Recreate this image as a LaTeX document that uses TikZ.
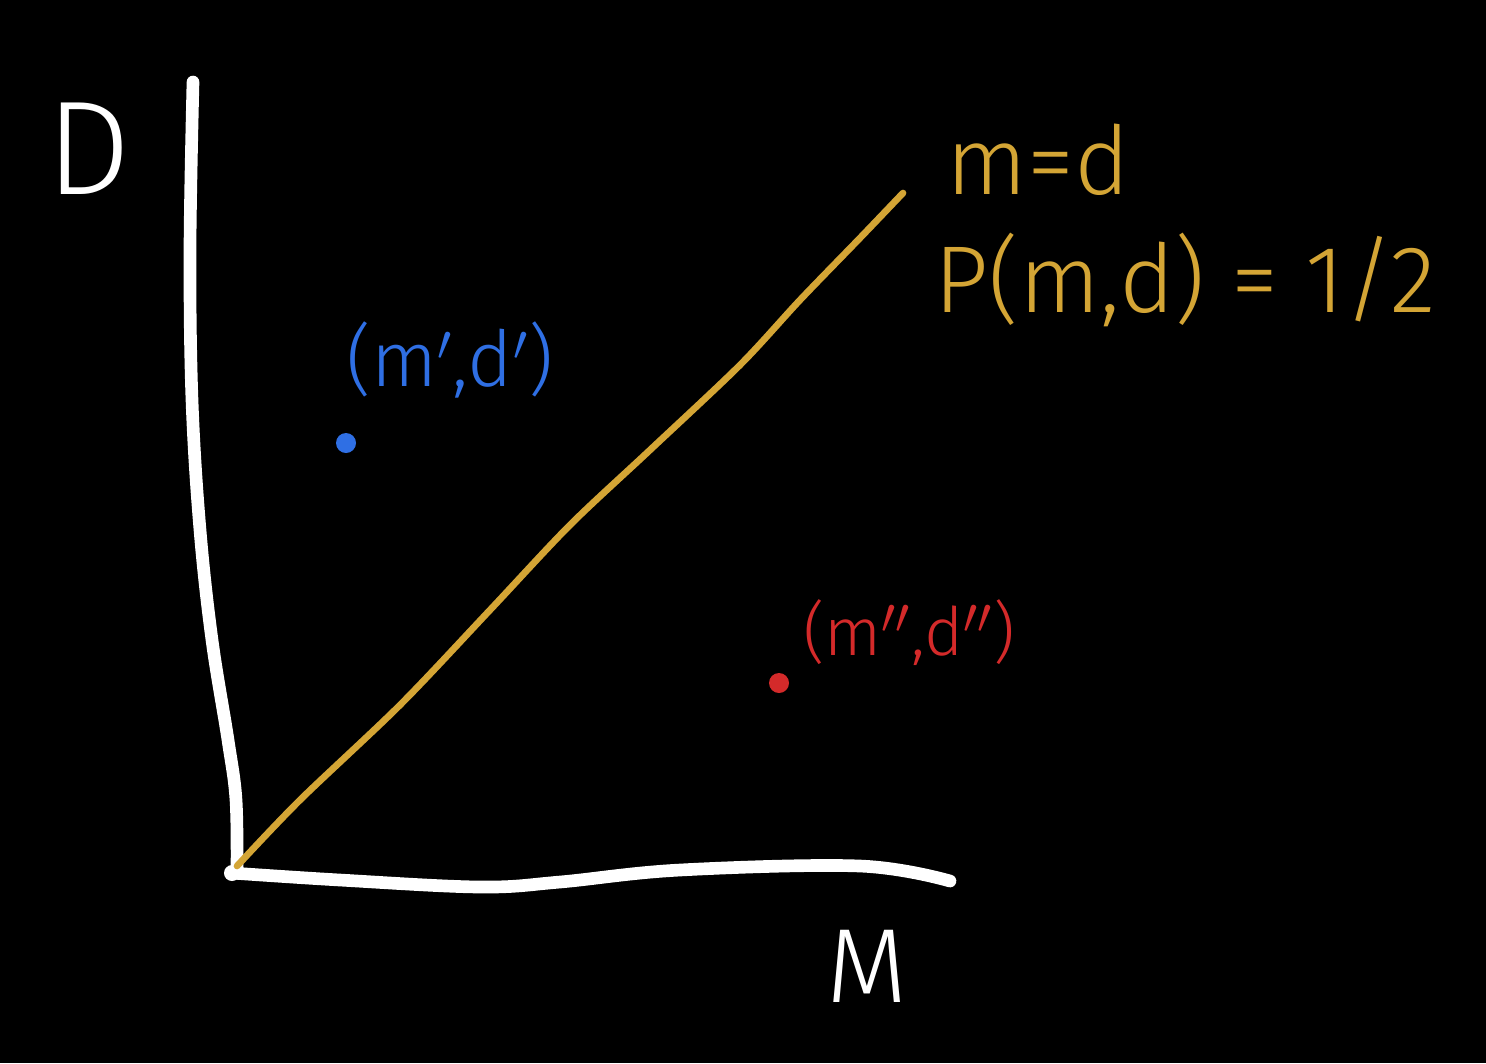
\documentclass[tikz,border=0pt]{standalone}
\usepackage{fontspec}
\setmainfont{Fira Sans Light}
\definecolor{gold}{HTML}{D4A535}
\definecolor{pblue}{HTML}{2F6FE4}
\definecolor{pred}{HTML}{D42A2A}
\begin{document}
\begin{tikzpicture}[x=0.01cm,y=-0.01cm,
  axis/.style={white,line width=3.6pt,line cap=round,line join=round},
  diag/.style={gold,line width=1.9pt,line cap=round,line join=round},
  lbl/.style={inner sep=0pt,anchor=center},
  ptdot/.style={circle,inner sep=0pt,minimum size=0.2cm}]
\fill[black] (0,0) rectangle (1486,1063);
\useasboundingbox (0,0) rectangle (1486,1063);
% axes
\coordinate (O) at (232,873);
\coordinate (ytop) at (193,82);
\coordinate (xend) at (950,881);
\draw[axis] plot[smooth,tension=0.6] coordinates {(193,82) (190,250) (192,400) (200,530) (212,640) (228,740) (236,800) (237,873)};
\draw[axis] plot[smooth,tension=0.6] coordinates {(232,873) (340,880) (480,887) (560,882) (680,870) (860,866) (950,881)};
\fill[white] (O) circle (0.08cm);
% diagonal
\coordinate (dtop) at (903,193);
\draw[diag] plot[smooth,tension=0.5] coordinates {(237,866) (300,800) (400,705) (490,610) (570,525) (650,450) (740,365) (800,300) (860,238) (903,193)};
% labels
\node[lbl,white,font=\fontsize{38}{38}\selectfont] (D) at (89,149) {D};
\node[lbl,white,font=\fontsize{30}{30}\selectfont] (M) at (867,966) {M};
\node[lbl,gold,font=\fontsize{27}{27}\selectfont] (eq) at (1038,160) {m=d};
\node[lbl,gold,font=\fontsize{27}{27}\selectfont] (prob) at (1185,280) {P(m,d) = 1/2};
\node[lbl,pblue,font=\fontsize{22}{22}\selectfont] (bl) at (450,360) {(m$'$,d$'$)};
\node[lbl,pred,font=\fontsize{19}{19}\selectfont] (rl) at (909,633) {(m$''$,d$''$)};
% points
\node[ptdot,fill=pblue] (bp) at (346,443) {};
\node[ptdot,fill=pred] (rp) at (779,683) {};
\end{tikzpicture}
\end{document}
